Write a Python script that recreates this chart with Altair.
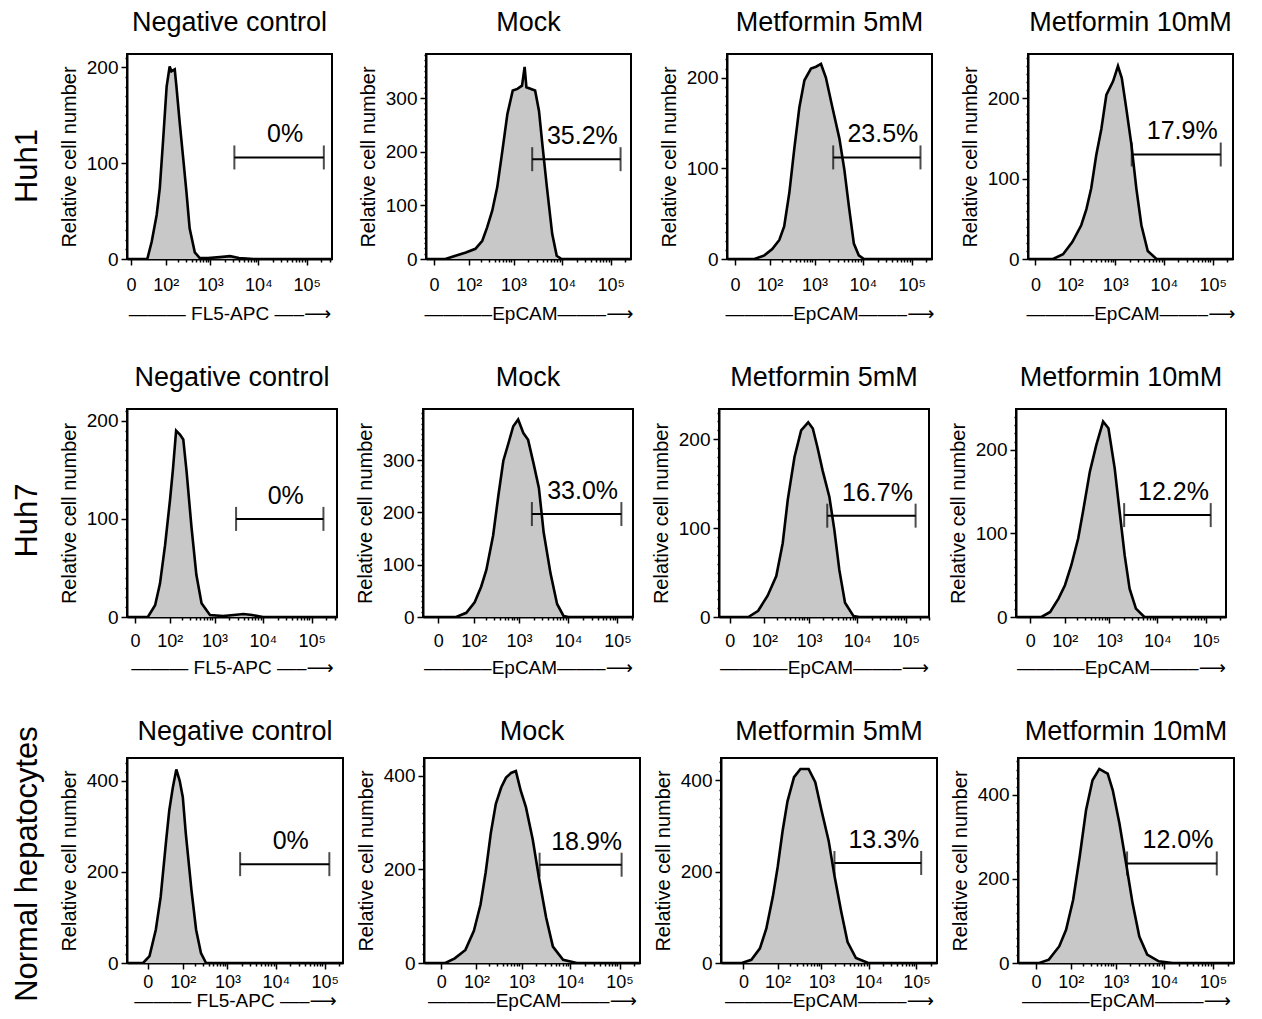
import math
import altair as alt
import pandas as pd

FONT = "Liberation Sans"
C = 24  # symlog constant used for the biexponential-like fluorescence axis

row_names = ["Huh1", "Huh7", "Normal hepatocytes"]
col_titles = ["Negative control", "Mock", "Metformin 5mM", "Metformin 10mM"]
marker_names = ["FL5-APC", "EpCAM", "EpCAM", "EpCAM"]

# ---------------- histogram outlines (fluorescence, cell count) ----------------
huh1_neg_x = [-5, 10, 28, 40, 57, 70, 86, 106, 126, 139, 167, 183, 219, 260, 307, 363, 470, 600, 900, 1600, 2600, 4000, 8000, 330000]
huh1_neg_y = [0, 0, 0, 18, 46, 74, 124, 180, 201, 196, 198, 180, 141, 106, 71, 32, 7, 1, 1, 2, 3, 1, 0, 0]
huh1_mock_x = [-11, 5, 17, 42, 84, 145, 210, 270, 350, 450, 580, 740, 960, 1200, 1500, 1700, 1850, 2800, 3370, 3950, 4900, 6300, 7800, 9800, 260000]
huh1_mock_y = [0, 0, 0, 6, 12, 19, 34, 59, 90, 134, 202, 270, 314, 317, 323, 358, 320, 314, 276, 214, 134, 47, 6, 0, 0]
huh1_m5_x = [-11, 10, 36, 72, 115, 170, 220, 287, 370, 475, 610, 840, 1070, 1360, 1720, 2350, 3270, 4130, 5140, 6500, 8200, 10500, 260000]
huh1_m5_y = [0, 0, 0, 4, 11, 21, 36, 73, 122, 167, 197, 210, 212, 215, 200, 167, 133, 99, 58, 17, 4, 0, 0]
huh1_m10_x = [-10, 10, 31, 64, 112, 183, 240, 307, 395, 510, 650, 900, 1140, 1370, 1700, 2170, 2750, 3480, 4700, 7100, 260000]
huh1_m10_y = [0, 0, 0, 6, 21, 42, 62, 88, 129, 162, 204, 221, 240, 225, 187, 142, 87, 42, 10, 0, 0]

huh7_neg_x = [-11, 5, 20, 38, 54, 75, 101, 120, 143, 176, 210, 250, 320, 410, 530, 800, 1500, 2500, 4000, 6000, 10000, 330000]
huh7_neg_y = [0, 0, 0, 12, 34, 73, 119, 151, 190, 186, 181, 148, 92, 43, 14, 2, 1, 2, 3, 2, 0, 0]
huh7_mock_x = [-25, 5, 31, 64, 106, 152, 200, 283, 370, 470, 600, 760, 960, 1230, 1540, 2000, 2560, 3200, 4400, 6000, 8100, 10200, 206000]
huh7_mock_y = [0, 0, 0, 8, 28, 58, 90, 156, 234, 299, 332, 365, 378, 352, 339, 293, 247, 162, 84, 25, 2, 0, 0]
huh7_m5_x = [-16, 10, 34, 68, 120, 193, 270, 350, 490, 680, 960, 1200, 1500, 1920, 2660, 3370, 4270, 5600, 8400, 11000, 300000]
huh7_m5_y = [0, 0, 0, 7, 24, 46, 83, 132, 180, 210, 219, 212, 191, 165, 135, 98, 53, 16, 1, 0, 0]
huh7_m10_x = [-23, 5, 17, 38, 68, 101, 145, 210, 270, 383, 530, 740, 960, 1300, 1650, 2100, 2660, 3600, 5400, 260000]
huh7_m10_y = [0, 0, 0, 6, 22, 38, 62, 94, 126, 174, 206, 234, 226, 178, 126, 74, 34, 10, 0, 0]

norm_neg_x = [-40, -6, 2, 11, 20, 33, 42, 54, 68, 84, 101, 120, 164, 210, 270, 350, 238000]
norm_neg_y = [0, 0, 15, 73, 145, 269, 335, 385, 425, 400, 364, 284, 160, 73, 22, 0, 0]
norm_mock_x = [-30, 5, 21, 50, 86, 126, 167, 219, 283, 370, 470, 600, 760, 960, 1230, 1700, 2300, 3200, 4400, 7100, 13500, 260000]
norm_mock_y = [0, 0, 10, 28, 69, 125, 194, 278, 340, 375, 396, 406, 410, 368, 333, 264, 180, 97, 35, 7, 0, 0]
norm_m5_x = [-47, -2, 11, 29, 48, 75, 101, 134, 176, 250, 350, 530, 740, 1020, 1430, 1920, 2660, 3600, 5400, 9800, 270000]
norm_m5_y = [0, 0, 7, 32, 75, 146, 211, 289, 354, 407, 425, 425, 396, 332, 268, 189, 111, 46, 11, 0, 0]
norm_m10_x = [-32, 4, 20, 48, 75, 114, 164, 230, 320, 450, 580, 680, 870, 1200, 1650, 2250, 3100, 4500, 7800, 15000, 270000]
norm_m10_y = [0, 0, 8, 40, 79, 150, 253, 364, 435, 462, 455, 451, 411, 332, 237, 142, 63, 20, 4, 0, 0]

curves = [
    [(huh1_neg_x, huh1_neg_y), (huh1_mock_x, huh1_mock_y), (huh1_m5_x, huh1_m5_y), (huh1_m10_x, huh1_m10_y)],
    [(huh7_neg_x, huh7_neg_y), (huh7_mock_x, huh7_mock_y), (huh7_m5_x, huh7_m5_y), (huh7_m10_x, huh7_m10_y)],
    [(norm_neg_x, norm_neg_y), (norm_mock_x, norm_mock_y), (norm_m5_x, norm_m5_y), (norm_m10_x, norm_m10_y)],
]

# ---------------- gates ----------------
gate_lo = [[3200, 2440, 2440, 2200], [2800, 1840, 2400, 2050], [1840, 2350, 1900, 1730]]
gate_hi = [[224000, 159000, 151000, 146000], [174000, 120000, 159000, 126000], [125000, 110000, 126000, 120000]]
gate_y = [[106, 186, 112, 130], [100, 197, 114, 122], [217, 210, 219, 237]]
gate_pct = [["0%", "35.2%", "23.5%", "17.9%"], ["0%", "33.0%", "16.7%", "12.2%"], ["0%", "18.9%", "13.3%", "12.0%"]]

# ---------------- axes ----------------
y_max = [[214, 382, 226, 255], [212, 398, 234, 249], [450, 438, 449, 488]]
y_step = [[100, 100, 100, 100], [100, 100, 100, 100], [200, 200, 200, 200]]
x_dom = [
    [[-5, 330000], [-11, 260000], [-11, 260000], [-10, 260000]],
    [[-11, 330000], [-25, 206000], [-16, 300000], [-23, 260000]],
    [[-40, 238000], [-30, 260000], [-47, 270000], [-32, 270000]],
]
x_major = [0, 100, 1000, 10000, 100000]
x_major_labels = ["0", "10²", "10³", "10⁴", "10⁵"]

# layout
row_width = [205, 210, 216]
row_height = [205, 208, 205]
row_spacing = [24, 16, 11]
row_title_offset = [17, 17, 12]
row_label_pad = [11, 9, 4]
row_title_pad = [10, 8, 0]


def symlog(v):
    return math.copysign(math.log1p(abs(v) / C), v)


def inv_symlog(u):
    return math.copysign(C * math.expm1(abs(u)), u)


label_expr = " : ".join(
    f"datum.value == {v} ? '{l}'" for v, l in zip(x_major, x_major_labels)
) + " : ''"
x_major_test = "indexof([0,100,1000,10000,100000], datum.value) >= 0"


def panel(r, c):
    xs, ys = curves[r][c]
    df = pd.DataFrame({"x": xs, "y": ys})
    lo, hi, gy = gate_lo[r][c], gate_hi[r][c], gate_y[r][c]
    mid = inv_symlog((symlog(lo) + symlog(hi)) / 2)
    gdf = pd.DataFrame({"lo": [lo], "hi": [hi], "gy": [gy], "mid": [mid], "lab": [gate_pct[r][c]]})
    cdf = pd.DataFrame({"cx": [lo, hi], "gy": [gy, gy]})

    xd = x_dom[r][c]
    xvals = [0] + [k * 10 ** n for n in range(2, 6) for k in range(1, 10)]
    xvals = [v for v in xvals if xd[0] <= v <= xd[1]]
    xscale = alt.Scale(type="symlog", constant=C, domain=xd, nice=False, zero=False)
    if c == 0:
        title = "——— " + marker_names[c] + " —–⟶"
    else:
        title = "———–" + marker_names[c] + "——–⟶"
    xaxis = alt.Axis(
        values=xvals, labelExpr=label_expr, title=title,
        tickSize={"condition": {"test": x_major_test, "value": 6}, "value": 3},
        labelFontSize={"condition": {"test": x_major_test, "value": 18}, "value": 0},
        labelOverlap=False, labelFlush=False, labelPadding=row_label_pad[r],
        titleFontSize=19, titlePadding=row_title_pad[r], titleFontWeight="normal", grid=False,
        titleFont="Liberation Sans, DejaVu Sans",
    )
    ym = y_max[r][c]
    st = y_step[r][c]
    minor = st // 10
    yvals = list(range(0, ym + 1, minor))
    yscale = alt.Scale(domain=[0, ym], nice=False, zero=True)
    ytest = f"datum.value % {st} == 0"
    yaxis = alt.Axis(
        values=yvals, labelExpr=f"{ytest} ? datum.label : ''",
        tickSize={"condition": {"test": ytest, "value": 6}, "value": 2},
        labelFontSize={"condition": {"test": ytest, "value": 19}, "value": 0},
        labelOverlap=False, labelPadding=3, title="Relative cell number",
        titleFontSize=20, titlePadding=7, titleFontWeight="normal", grid=False,
    )
    X = lambda f: alt.X(f, type="quantitative", scale=xscale, axis=xaxis)
    Y = lambda f: alt.Y(f, type="quantitative", scale=yscale, axis=yaxis)

    area = alt.Chart(df).mark_area(color="#c8c8c8", clip=True).encode(x=X("x"), y=Y("y"))
    line = alt.Chart(df).mark_line(color="black", strokeWidth=2.6, clip=True).encode(x=X("x"), y=Y("y"))
    rule = alt.Chart(gdf).mark_rule(color="black", strokeWidth=2).encode(x=X("lo"), x2="hi:Q", y=Y("gy"))
    caps = alt.Chart(cdf).mark_tick(color="black", orient="vertical", size=24, thickness=2).encode(x=X("cx"), y=Y("gy"))
    text = alt.Chart(gdf).mark_text(fontSize=25, baseline="bottom", dy=-10, dx=6, color="black").encode(
        x=X("mid"), y=Y("gy"), text="lab:N")

    return alt.layer(area, line, rule, caps, text).properties(
        width=row_width[r], height=row_height[r],
        title=alt.TitleParams(text=col_titles[c], fontSize=27, fontWeight="normal", anchor="middle",
                              frame="group", offset=row_title_offset[r], color="black"),
    )


rows = []
for r in range(3):
    row = alt.hconcat(*[panel(r, c) for c in range(4)], spacing=row_spacing[r]).properties(
        title=alt.TitleParams(text=row_names[r], orient="left", fontSize=31, fontWeight="normal",
                              anchor="middle", offset=14, color="black")
    )
    rows.append(row)

chart = alt.vconcat(*rows, spacing=39).properties(
    padding={"left": 4, "top": 0, "right": 0, "bottom": 0}
).configure(font=FONT).configure_view(
    stroke="black", strokeWidth=2
).configure_axis(
    domainColor="black", domainWidth=2, tickColor="black", tickWidth=1.5,
    labelColor="black", titleColor="black", labelFont=FONT, titleFont=FONT,
).configure_title(font=FONT)

chart.save("out.html", embed_options={"renderer": "svg", "actions": False})
